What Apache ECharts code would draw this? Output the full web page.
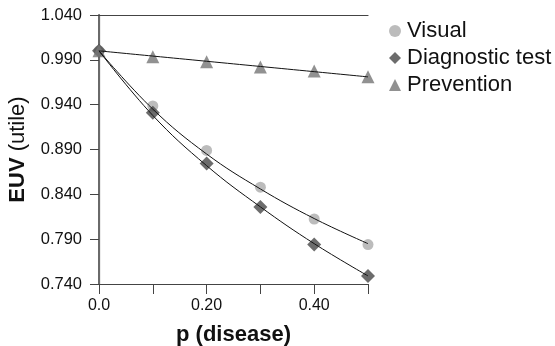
<!DOCTYPE html>
<html><head><meta charset="utf-8">
<script src="https://cdn.jsdelivr.net/npm/echarts@6/dist/echarts.min.js"></script>
<style>html,body{margin:0;padding:0;background:#fff}#c{width:555px;height:346px}</style>
</head><body><div id="c"></div>
<script>
const pValues = [0.0, 0.1, 0.2, 0.3, 0.4, 0.5];
const visual = [1.000, 0.9385, 0.889, 0.848, 0.8125, 0.784];
const diagnostic = [1.000, 0.931, 0.8745, 0.826, 0.784, 0.749];
const prevention = [1.000, 0.9935, 0.988, 0.982, 0.9775, 0.971];
const visualFit = [1.000, 0.935, 0.885, 0.846, 0.813, 0.785];
const diagnosticFit = [1.000, 0.928, 0.872, 0.826, 0.785, 0.749];
const preventionFit = [1.000, 0.9942, 0.9884, 0.9826, 0.9768, 0.971];
const seriesNames = ['Visual', 'Diagnostic test', 'Prevention'];
const xLabels = {'0.0': '0.0', '0.2': '0.20', '0.4': '0.40'};

const pts = arr => arr.map((v, i) => [pValues[i], v]);
const font = 'Liberation Sans, Arial, Helvetica, sans-serif';
const chart = echarts.init(document.getElementById('c'), null, {renderer: 'canvas'});
const marks = [
  {name: seriesNames[0], data: visual, fit: visualFit, symbol: 'circle', size: 11, color: '#ababab'},
  {name: seriesNames[1], data: diagnostic, fit: diagnosticFit, symbol: 'diamond', size: 14, color: '#474747'},
  {name: seriesNames[2], data: prevention, fit: preventionFit, symbol: 'triangle', size: 13, color: '#757575'}
];
const series = [];
marks.forEach(m => {
  series.push({name: m.name + ' fit', type: 'line', data: pts(m.fit), smooth: 0.4, symbol: 'none',
    lineStyle: {color: '#111', width: 1}, z: 3, silent: true});
});
marks.forEach(m => {
  series.push({name: m.name, type: 'scatter', data: pts(m.data), symbol: m.symbol, symbolSize: m.size,
    itemStyle: {color: m.color}, z: 2});
});
chart.setOption({
  animation: false,
  textStyle: {fontFamily: font},
  grid: {left: 99, right: 187, top: 15, bottom: 62, outerBoundsMode: 'none', containLabel: false},
  legend: {
    orient: 'vertical', left: 384, top: 15, itemGap: 5, itemWidth: 12, itemHeight: 12,
    data: marks.map(m => ({name: m.name, icon: m.symbol, itemStyle: {color: m.color}})),
    textStyle: {fontSize: 22, color: '#111', fontFamily: font, padding: [0, 0, 0, 1]}
  },
  xAxis: [{
    type: 'value', min: 0, max: 0.5, interval: 0.1,
    name: 'p (disease)', nameLocation: 'middle', nameGap: 40,
    nameTextStyle: {fontSize: 22, fontWeight: 'bold', color: '#111', fontFamily: font},
    axisLine: {lineStyle: {color: '#444', width: 1.2}},
    axisTick: {show: true, length: 10, lineStyle: {color: '#444'}},
    axisLabel: {fontSize: 16, color: '#111', margin: 14, fontFamily: font,
      formatter: v => xLabels[v.toFixed(1)] || ''},
    splitLine: {show: false}
  }, {
    type: 'value', min: 0, max: 0.5, position: 'top',
    axisLine: {show: true, lineStyle: {color: '#444', width: 1.2}},
    axisTick: {show: false}, axisLabel: {show: false}, splitLine: {show: false}
  }],
  yAxis: [{
    type: 'value', min: 0.74, max: 1.04, interval: 0.05,
    name: '{b|EUV} (utile)', nameLocation: 'middle', nameGap: 70, nameRotate: 90,
    nameTextStyle: {fontSize: 22, color: '#111', fontFamily: font,
      rich: {b: {fontSize: 22, fontWeight: 'bold', color: '#111', fontFamily: font}}},
    axisLine: {show: true, lineStyle: {color: '#444', width: 1.2}},
    axisTick: {show: true, length: 9, lineStyle: {color: '#444'}},
    axisLabel: {fontSize: 16.5, color: '#111', margin: 17, fontFamily: font,
      formatter: v => v.toFixed(3)},
    splitLine: {show: false}
  }, {
    type: 'value', min: 0.74, max: 1.04, position: 'right',
    axisLine: {show: true, lineStyle: {color: '#6a6a6a', width: 2}},
    axisTick: {show: false}, axisLabel: {show: false}, splitLine: {show: false}
  }],
  series: series
});
</script></body></html>
